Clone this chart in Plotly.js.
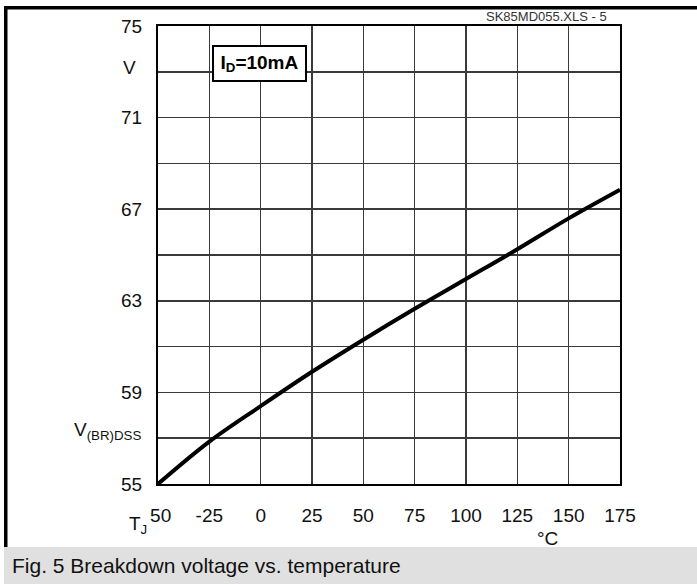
<!DOCTYPE html>
<html>
<head>
<meta charset="utf-8">
<script src="https://cdn.plot.ly/plotly-3.0.1.min.js"></script>
<style>html,body{margin:0;padding:0;background:#fff;}#chart{width:697px;height:584px;}</style>
</head>
<body>
<div id="chart"></div>
<script>
// Data
const temperature = [-50, -25, 0, 25, 50, 75, 100, 125, 150, 175];
const breakdownVoltage = [55.0, 56.85, 58.4, 59.9, 61.3, 62.65, 63.95, 65.25, 66.6, 67.85];

const xTickVals = [-50, -25, 0, 25, 50, 75, 100, 125, 150, 175];
const xTickText = ["\u00a050", "-25", "0", "25", "50", "75", "100", "125", "150", "175"];
const yTickVals = [55, 57, 59, 61, 63, 65, 67, 69, 71, 73, 75];
const yTickText = ["55", "", "59", "", "63", "", "67", "", "71", "", "75"];

// Layout geometry (pixels)
const W = 697, H = 584;
const L = 158, R = 620, T = 26, B = 484;
const px = x => (x - L) / (R - L);
const py = y => (B - y) / (B - T);

const FONT = "Liberation Sans, Arial, Helvetica, sans-serif";

const trace = {
  x: temperature,
  y: breakdownVoltage,
  type: "scatter",
  mode: "lines",
  line: {color: "#000", width: 4, shape: "spline", smoothing: 1},
  hoverinfo: "skip",
  cliponaxis: true
};

const layout = {
  width: W, height: H,
  margin: {l: L, r: W - R, t: T, b: H - B, pad: 0},
  paper_bgcolor: "#fff",
  plot_bgcolor: "#fff",
  showlegend: false,
  font: {family: FONT, size: 19, color: "#111"},
  xaxis: {
    range: [-50, 175],
    tickmode: "array", tickvals: xTickVals, ticktext: xTickText,
    showgrid: true, gridcolor: "#3a3a3a", gridwidth: 1.5,
    zeroline: false,
    showline: true, linecolor: "#000", linewidth: 2, mirror: true,
    ticks: "outside", ticklen: 13, tickcolor: "rgba(0,0,0,0)",
    tickfont: {family: FONT, size: 19, color: "#111"},
    fixedrange: true
  },
  yaxis: {
    range: [55, 75],
    tickmode: "array", tickvals: yTickVals, ticktext: yTickText,
    showgrid: true, gridcolor: "#3a3a3a", gridwidth: 1.5,
    zeroline: false,
    showline: true, linecolor: "#000", linewidth: 2, mirror: true,
    ticks: "outside", ticklen: 10, tickcolor: "rgba(0,0,0,0)",
    tickfont: {family: FONT, size: 19, color: "#111"},
    fixedrange: true
  },
  shapes: [
    // footer band
    {type: "rect", xref: "paper", yref: "paper", x0: px(4), x1: px(697), y0: py(547), y1: py(584),
     fillcolor: "#e0e0e0", line: {width: 0}, layer: "below"},
    // left frame bar
    {type: "rect", xref: "paper", yref: "paper", x0: px(4), x1: px(7.5), y0: py(6), y1: py(547),
     fillcolor: "#000", line: {width: 0}},
    // top frame bar
    {type: "rect", xref: "paper", yref: "paper", x0: px(4), x1: px(697), y0: py(6), y1: py(9.5),
     fillcolor: "#000", line: {width: 0}}
  ],
  annotations: [
    {xref: "paper", yref: "paper", x: px(259.5), y: py(64), xanchor: "center", yanchor: "middle",
     text: "<b>I<sub>D</sub>=10mA</b>", showarrow: false,
     font: {family: FONT, size: 19, color: "#000"},
     bgcolor: "#fff", bordercolor: "#000", borderwidth: 2, borderpad: 1,
     width: 89, height: 31, align: "center"},
    {xref: "paper", yref: "paper", x: px(121), y: py(67.5), xanchor: "left", yanchor: "middle",
     text: "V", showarrow: false, font: {family: FONT, size: 19, color: "#111"}},
    {xref: "paper", yref: "paper", x: px(143), y: py(431), xanchor: "right", yanchor: "middle",
     text: "V<sub>(BR)DSS</sub>", showarrow: false, font: {family: FONT, size: 19, color: "#111"}},
    {xref: "paper", yref: "paper", x: px(127), y: py(525), xanchor: "left", yanchor: "middle",
     text: "T<sub>J</sub>", showarrow: false, font: {family: FONT, size: 19, color: "#111"}},
    {xref: "paper", yref: "paper", x: px(547), y: py(538), xanchor: "center", yanchor: "middle",
     text: "°C", showarrow: false, font: {family: FONT, size: 19, color: "#111"}},
    {xref: "paper", yref: "paper", x: px(609), y: py(16), xanchor: "right", yanchor: "middle",
     text: "SK85MD055.XLS - 5", showarrow: false, font: {family: FONT, size: 13, color: "#333"}},
    {xref: "paper", yref: "paper", x: px(10), y: py(565), xanchor: "left", yanchor: "middle",
     text: "Fig. 5 Breakdown voltage vs. temperature", showarrow: false,
     font: {family: FONT, size: 21, color: "#111"}}
  ]
};

Plotly.newPlot("chart", [trace], layout, {displayModeBar: false, staticPlot: true});
</script>
</body>
</html>
